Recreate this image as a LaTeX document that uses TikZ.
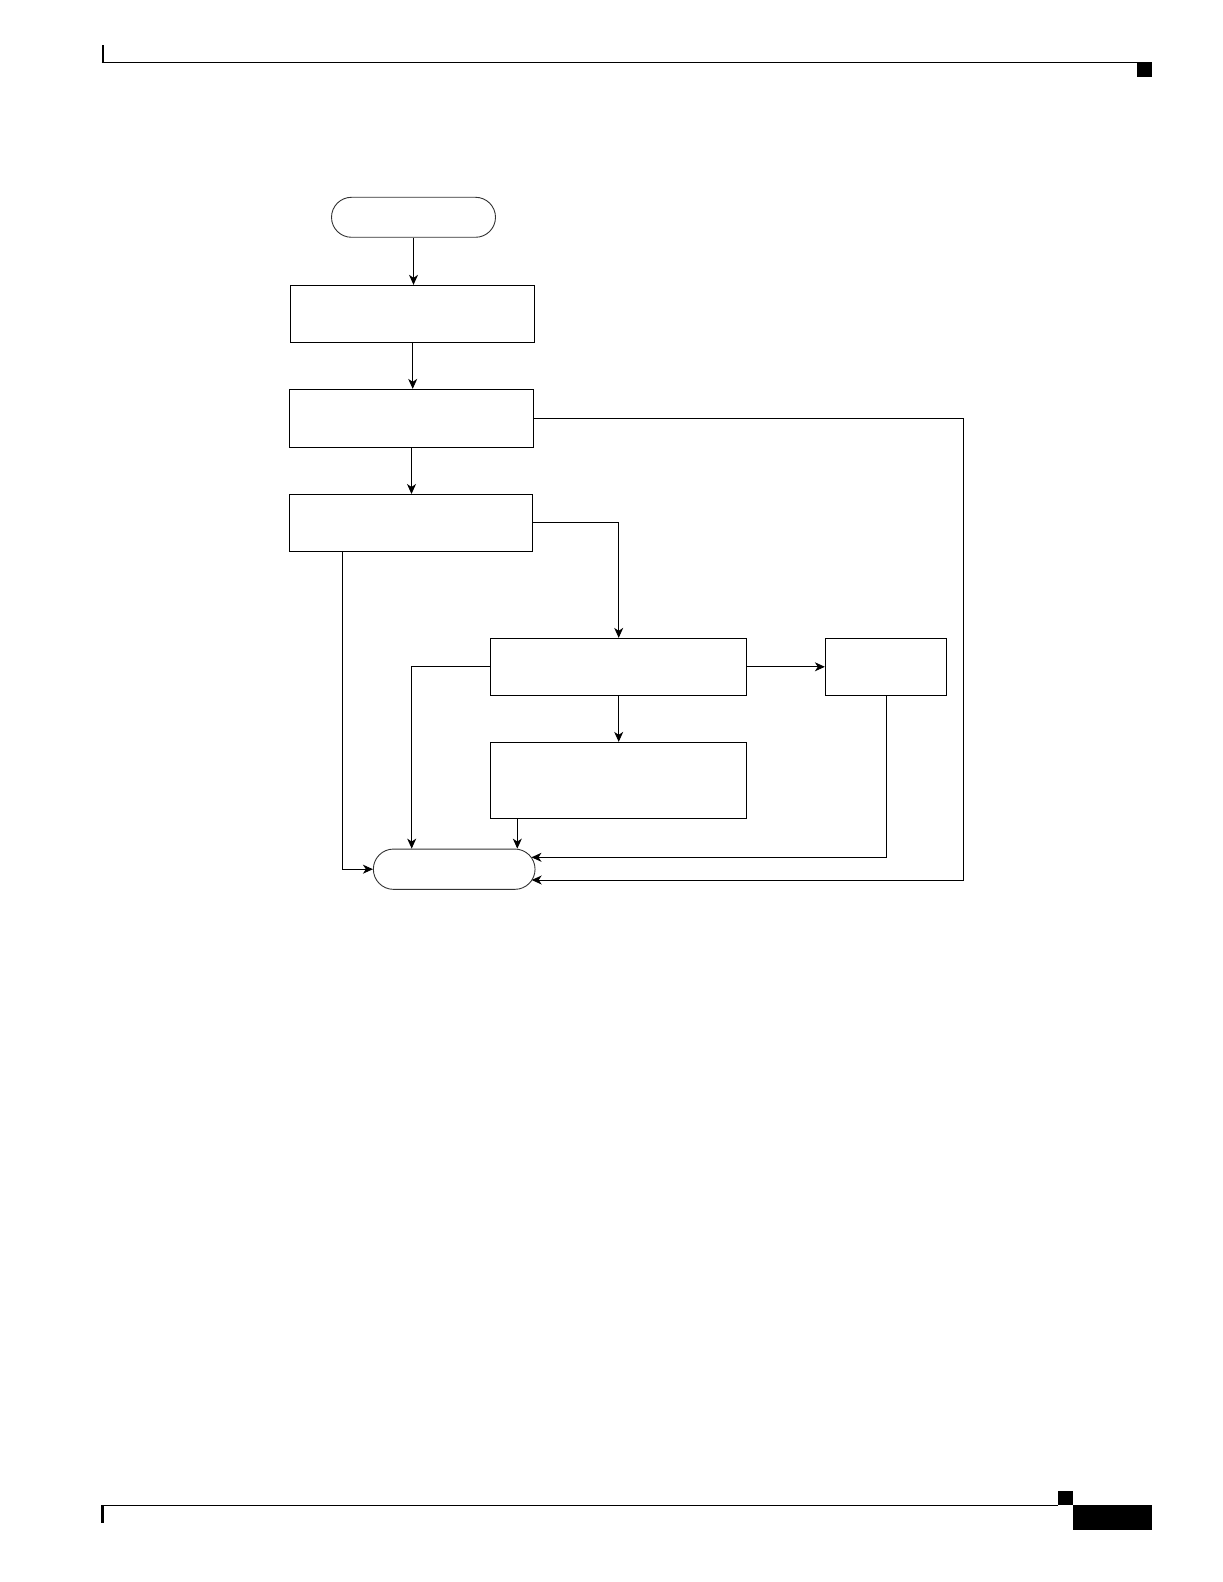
\documentclass[tikz,border=0pt]{standalone}
\usetikzlibrary{arrows.meta,shapes.misc}
\begin{document}
\begin{tikzpicture}[x=0.5pt,y=-0.5pt,
  stepbox/.style={draw,line width=0.45pt,inner sep=0pt,rectangle},
  termbox/.style={draw=black!80,line width=0.45pt,inner sep=0pt,rounded rectangle},
  arr/.style={line width=0.45pt,-{Stealth[length=5pt,width=4.5pt,inset=1.5pt]}},
  conn/.style={line width=0.45pt},
  rule/.style={line width=0.6pt}]
\useasboundingbox (0,0) rectangle (1222,1582);
% header and footer
\draw[rule] (101.7,62.3) -- (1137.3,62.3);
\fill (101.7,44.7) rectangle (104.3,62.3);
\fill (1137.3,62.3) rectangle (1151.7,76.7);
\draw[rule] (101,1505.3) -- (1058.3,1505.3);
\fill (101,1505) rectangle (104,1522.7);
\fill (1058.3,1491) rectangle (1072.7,1505);
\fill (1072.7,1505) rectangle (1152,1530);
% nodes
\node[termbox,minimum width=82pt,minimum height=20pt] (start) at (413.5,217.3) {};
\node[stepbox,minimum width=122pt,minimum height=28.5pt] (b1) at (412.7,313.8) {};
\node[stepbox,minimum width=122pt,minimum height=29pt] (b2) at (411.5,418.3) {};
\node[stepbox,minimum width=121.5pt,minimum height=28.25pt] (b3) at (411,522.7) {};
\node[stepbox,minimum width=128pt,minimum height=28.5pt] (b4) at (618.7,666.8) {};
\node[stepbox,minimum width=128pt,minimum height=38pt] (b5) at (618.7,780.3) {};
\node[stepbox,minimum width=60.7pt,minimum height=28.5pt] (b6) at (886,666.8) {};
\node[termbox,minimum width=80.85pt,minimum height=20.15pt] (end) at (454.2,869.2) {};
% helper coordinates
\coordinate (c3) at (342,0);
\coordinate (c4) at (411.7,0);
\coordinate (p5) at (517.3,818.3);
\coordinate (eR1) at (531.5,857.3);
\coordinate (eR2) at (531.7,880);
\coordinate (r2) at (963.7,0);
% connectors
\draw[arr] (start.south) -- (start.south |- b1.north);
\draw[arr] (b1.south) -- (b1.south |- b2.north);
\draw[arr] (b2.south) -- (b2.south |- b3.north);
\draw[arr] (b3.east) -| (b4.north);
\draw[arr] (b4.east) -- (b6.west);
\draw[arr] (b4.south) -- (b5.north);
\draw[arr] (c3 |- b3.south) |- (end.west);
\draw[arr] (b4.west) -| (c4 |- end.north);
\draw[arr] (p5) -- (p5 |- end.north);
\draw[arr] (b6.south) |- (eR1);
\draw[conn] (b2.east) -- (r2 |- b2.east) -- (r2 |- eR2);
\draw[arr] (r2 |- eR2) -- (eR2);
\end{tikzpicture}
\end{document}
